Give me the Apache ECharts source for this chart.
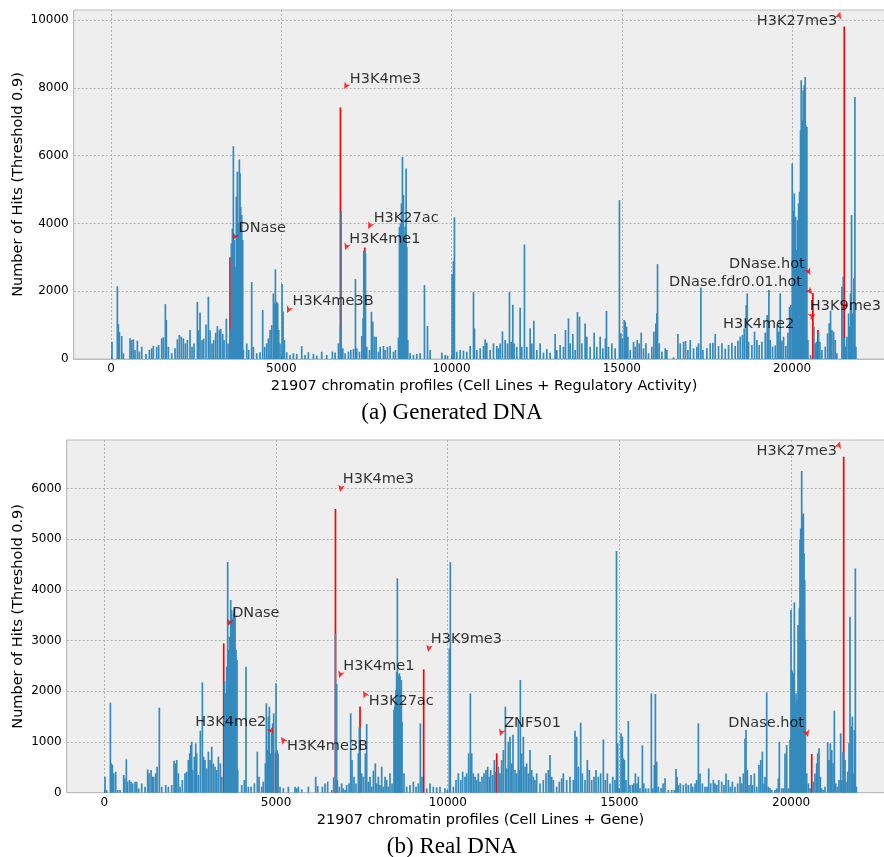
<!DOCTYPE html>
<html>
<head>
<meta charset="utf-8">
<script src="https://cdn.jsdelivr.net/npm/echarts@6/dist/echarts.min.js"></script>
<style>
    html, body { margin: 0; padding: 0; background: #fff; }
    #chart { width: 884px; height: 857px; }
</style>
</head>
<body>
<div id="chart"></div>
<script>
// profile index / hit count (only visible bars)
var genBlue = [[29,510],[186,2150],[215,1030],[245,800],[313,680],[362,170],[558,610],[607,560],[656,580],[705,265],[773,540],[832,220],[901,360],[1028,150],[1126,270],[1194,315],[1243,390],[1341,360],[1400,410],[1488,610],[1537,640],[1596,1620],[1625,1150],[1684,360],[1782,170],[1880,315],[1948,580],[2007,710],[2066,660],[2125,610],[2183,460],[2242,560],[2320,855],[2379,360],[2438,460],[2536,1680],[2575,850],[2614,1370],[2673,560],[2722,600],[2790,1020],[2859,1840],[2908,850],[2966,460],[3015,560],[3074,780],[3123,970],[3182,855],[3221,895],[3280,740],[3319,560],[3387,1190],[3436,460],
    [3495,855],[3534,3410],[3564,3850],[3593,6280],[3622,3510],[3652,2720],[3681,4790],[3710,5525],[3740,4000],[3769,5890],[3789,5475],[3808,4490],[3838,4250],[3867,3510],[3887,265],
    [3985,460],[4043,265],[4131,2270],[4180,360],[4278,170],[4376,200],[4454,1445],[4513,360],[4572,460],[4621,610],[4670,855],[4719,1000],[4768,1936],[4807,1640],[4827,2645],[4866,1690],[4895,1640],[4924,855],[4963,460],[5022,2210],[5052,1400],[5091,560],[5159,200],[5257,120],[5355,170],[5453,150],[5600,380],[5698,120],[5796,200],[5943,150],[6041,100],[6187,216],[6334,120],[6500,220],
    [6581,190],[6679,460],[6737,950],[6757,4365],[6806,315],[6875,170],[6972,216],[7041,265],[7119,295],[7178,2360],[7217,315],[7296,216],[7364,680],[7403,1200],[7423,3195],[7452,3200],[7472,3115],[7511,360],[7589,265],[7648,1395],[7687,1100],[7736,660],[7785,660],[7854,216],[7903,360],[8000,384],[8049,265],[8118,360],[8196,384],[8294,216],[8353,265],[8441,630],[8470,3900],[8500,4000],[8529,4590],[8558,5966],[8588,4840],[8607,3410],[8637,3900],[8666,5620],[8686,3310],[8715,560],[8784,170],[8882,120],[8980,150],[9077,170],[9205,2180],[9293,970],[9371,265],[9714,190],[9812,120],[9880,100],
    [10017,2500],[10056,2890],[10085,4180],[10154,216],[10252,265],[10350,246],[10448,216],[10546,384],[10644,1975],[10673,905],[10742,265],[10840,315],[10937,384],[10987,580],[11035,480],[11133,265],[11231,460],[11329,384],[11378,315],[11427,460],[11495,815],[11574,560],[11642,460],[11701,1975],[11750,510],[11799,1600],[11838,460],[11916,360],[12014,1515],[12063,360],[12141,3380],[12210,360],[12308,905],[12357,460],[12416,1130],[12504,265],[12602,460],[12700,186],[12798,290],[12895,186],[13042,735],[13091,265],[13189,413],[13287,360],[13346,855],[13434,1200],[13483,460],[13561,737],[13630,265],[13698,1385],[13757,1250],[13825,460],[13923,1050],[13972,660],[14070,360],[14188,777],[14266,360],[14364,660],[14442,315],[14520,610],[14550,1415],[14609,360],[14707,460],[14805,315],[14930,4690],
    [14972,757],[15021,610],[15070,1150],[15100,1100],[15139,954],[15178,660],[15247,265],[15344,510],[15393,364],[15452,560],[15511,462],[15570,777],[15638,315],[15707,462],[15785,167],[15883,364],[15942,806],[16000,1050],[16030,1347],[16049,2800],[16098,462],[16177,216],[16275,315],[16323,265],[16519,50],[16647,737],[16715,462],[16813,510],[16872,530],[16940,265],[17009,560],[17107,315],[17205,364],[17254,462],[17322,2113],[17381,265],[17498,315],[17596,462],[17675,482],[17743,737],[17841,383],[17939,462],[18037,305],[18135,413],[18233,482],[18330,383],[18409,540],[18477,660],[18546,708],[18595,904],[18654,1592],[18683,1937],[18722,511],[18820,413],[18898,806],[18967,560],[19035,413],[19114,511],[19212,777],[19270,1297],[19319,2035],[19359,560],[19427,364],[19505,403],[19564,1003],[19613,806],[19652,1937],[19701,540],[19750,658],[19818,383],[19877,777],[19926,1543],[19965,1592],
    [20005,5770],[20024,4200],[20044,4375],[20064,4885],[20083,4100],[20103,4200],[20132,3215],[20161,4100],[20191,4590],[20220,4935],[20249,6750],[20269,8228],[20298,7046],[20327,7930],[20357,8080],[20386,8326],[20406,6900],[20435,6850],[20465,560],[20543,118],[20641,954],[20680,462],[20719,510],[20778,757],[20817,510],[20876,265],[20974,364],[21042,757],[21091,1050],[21130,1425],[21169,855],[21219,806],[21268,560],[21316,167],[21463,2133],[21502,2428],[21533,620],[21561,364],[21610,660],[21659,1347],[21688,954],[21718,1937],[21747,4246],[21777,1347],[21816,2380],[21845,7736],[21874,364]];
var genRed = [[3495,3000],[6737,7425],[7452,3290],[20611,1950],[20760,855],[21533,9810]];

var realBlue = [[20,316],[69,50],[176,1776],[205,579],[234,546],[273,382],[331,414],[389,53],[457,53],[564,349],[593,283],[641,658],[671,217],[729,250],[777,217],[826,184],[894,217],[942,217],[1001,86],[1088,184],[1185,118],[1263,460],[1302,382],[1360,447],[1399,316],[1437,316],[1496,382],[1535,513],[1602,1677],[1670,118],[1787,151],[1865,118],[1962,151],[2030,631],[2069,579],[2107,645],[2156,382],[2204,118],[2272,250],[2350,382],[2398,414],[2447,645],[2486,776],[2515,940],[2544,1006],[2573,447],[2622,710],[2661,973],[2690,776],[2738,349],[2796,1224],[2855,2177],[2893,710],[2932,645],[2981,480],[3029,809],[3078,645],[3127,908],[3175,579],[3224,513],[3272,447],[3321,710],[3379,579],[3418,316],
    [3500,2200],[3525,1960],[3563,2486],[3592,4552],[3621,2815],[3651,3078],[3680,3802],[3709,3605],[3738,3440],[3767,3539],[3787,3638],[3806,3473],[3835,2815],[3864,2618],[3884,450],
    [4000,151],[4078,250],[4126,2486],[4194,118],[4272,118],[4369,184],[4456,809],[4505,316],[4583,118],[4631,217],[4689,579],[4718,1763],[4748,842],[4777,1500],[4806,1697],[4835,776],[4874,1171],[4903,1368],[4932,1566],[5000,2158],[5029,842],[5058,776],[5116,118],[5213,86],[5359,118],[5553,118],[5602,86],[5650,118],[5747,66],[5941,118],[6155,316],[6213,130],[6349,118],[6427,184],[6504,217],[6621,53],[6679,302],
    [6731,3140],[6765,2145],[6786,250],[6844,118],[6912,184],[6960,86],[7009,53],[7057,151],[7125,184],[7174,1566],[7213,645],[7271,316],[7329,184],[7397,776],[7426,1290],[7446,1290],[7494,382],[7543,316],[7601,776],[7640,1355],[7688,217],[7737,316],[7785,118],[7834,434],[7892,579],[7931,184],[7980,316],[8028,151],[8077,513],[8125,118],[8174,316],[8222,250],[8271,118],[8319,382],[8378,184],[8436,1631],[8455,1697],[8475,1829],[8494,2026],[8513,2388],[8533,4230],[8552,2322],[8572,2026],[8591,2355],[8610,2300],[8630,2050],[8649,2223],[8669,1400],[8727,382],[8805,118],[8902,151],[8999,217],[9076,118],[9144,184],[9203,1368],[9251,316],[9387,86],[9484,184],[9581,118],[9678,105],[9775,118],[9921,86],[9989,53],
    [10047,2850],[10076,4550],[10164,118],[10241,250],[10309,382],[10377,250],[10435,414],[10503,316],[10552,382],[10610,776],[10659,1960],[10698,776],[10746,382],[10795,316],[10843,250],[10892,382],[10940,217],[10998,316],[11057,382],[11115,447],[11163,513],[11212,316],[11251,447],[11309,349],[11358,645],[11387,414],[11474,513],[11522,382],[11571,645],[11620,842],[11678,1697],[11717,480],[11765,1006],[11814,1105],[11862,579],[11901,1145],[11959,447],[12008,382],[12056,1434],[12085,447],[12115,2223],[12154,776],[12202,1105],[12251,513],[12299,579],[12348,382],[12396,842],[12445,447],[12493,316],[12542,250],[12590,382],[12687,184],[12784,250],[12862,382],[12930,447],[12979,743],[13027,316],[13076,250],[13173,118],[13251,217],[13319,283],[13367,382],[13464,250],[13561,316],[13658,250],[13707,1224],[13755,1105],[13804,513],[13872,1381],[13920,382],[13998,250],[14066,645],[14124,447],[14192,250],[14260,316],[14318,447],[14386,316],[14454,382],[14532,1052],[14590,250],[14648,382],[14726,184],[14804,316],[14871,250],[14915,4770],[14950,973],
    [14988,86],[15047,1171],[15086,1105],[15115,677],[15144,645],[15192,250],[15260,1414],[15309,151],[15377,151],[15416,184],[15464,381],[15513,184],[15551,316],[15600,86],[15668,934],[15707,184],[15765,86],[15843,86],[15930,1960],[15969,86],[16017,546],[16047,1947],[16085,612],[16134,118],[16212,86],[16270,184],[16328,283],[16425,53],[16522,53],[16600,53],[16648,467],[16678,316],[16717,151],[16774,184],[16861,151],[16940,184],[17007,151],[17085,184],[17134,118],[17202,184],[17250,250],[17299,1368],[17347,381],[17415,184],[17493,118],[17551,118],[17600,480],[17658,184],[17736,250],[17784,184],[17833,151],[17891,250],[17978,217],[18046,151],[18104,381],[18172,250],[18231,118],[18289,217],[18366,118],[18444,184],[18512,316],[18561,184],[18609,381],[18658,1072],[18687,1237],[18726,447],[18774,151],[18833,349],[18871,151],[18930,381],[18998,118],[19065,546],[19114,645],[19163,809],[19211,184],[19240,316],[19289,1980],[19337,118],[19386,86],[19434,53],[19531,53],[19580,86],[19628,283],[19657,1006],[19725,86],[19774,86],[19823,776],[19871,940],[19920,86],[19968,1040],
    [19997,3605],[20017,2420],[20036,2388],[20065,2355],[20094,3756],[20114,1763],[20143,1960],[20172,1829],[20201,3309],[20220,2420],[20240,3640],[20259,4986],[20279,5216],[20308,6348],[20327,5480],[20357,5512],[20376,4723],[20396,4197],[20415,3013],[20454,381],[20503,184],[20551,86],[20648,217],[20696,381],[20745,579],[20774,776],[20813,875],[20852,316],[20890,86],[20939,53],[20987,118],[21065,993],[21104,645],[21143,974],[21182,842],[21221,579],[21259,1618],[21298,184],[21347,118],[21395,250],[21444,1171],[21473,250],[21512,809],[21531,800],[21570,645],[21599,217],[21648,414],[21686,974],[21715,3473],[21754,1302],[21784,1500],[21813,381],[21842,1237],[21871,4427],[21900,118]];
var realRed = [[3476,2947],[4985,790],[5040,760],[6731,5600],[7446,1700],[9300,2434],[11426,776],[20600,763],[21531,6630]];

// annotation label, arrow tip (profile index, hits)
var genNotes = [['H3K4me3',6845,7965],['DNase',3584,3510],['H3K27ac',7550,3835],['H3K4me1',6874,3215],['H3K4me3B',5170,1357],['H3K27me3',21416,10250],['DNase.hot',20535,2478],['DNase.fdr0.01.hot',20593,1918],['H3K9me3',21651,1563],['H3K4me2',20682,1327]];
var realNotes = [['H3K27me3',21424,6930],['H3K4me3',6864,5935],['DNase',3602,3290],['H3K9me3',9426,2777],['H3K4me1',6835,2264],['H3K27ac',7534,2007],['H3K4me2',4913,1158],['H3K4me3B',5146,1099],['ZNF501',11523,1119],['DNase.hot',20493,1099]];

var xTicks = [0, 5000, 10000, 15000, 20000];
var genYTicks = [0, 2000, 4000, 6000, 8000, 10000];
var realYTicks = [0, 1000, 2000, 3000, 4000, 5000, 6000];

// text placement of the annotations (px from arrow tip)
var genNotePos = [[4,-7,'left'],[4,-9,'left'],[4,-8,'left'],[3,-8,'left'],[4,-9,'left'],[-2,6,'right'],[-4,-8,'right'],[-8,-9,'right'],[-35,0,'left'],[-18,9,'right']];
var realNotePos = [[-2,6,'right'],[2,-9,'left'],[3,-9,'left'],[2,-9,'left'],[3,-8,'left'],[4,7,'left'],[-5,-9,'right'],[4,6,'left'],[3,-9,'left'],[-3,-10,'right']];

window.onload = function(){

    var myChart = echarts.init(document.getElementById('chart'));
    var txt = '#000';
    var plain = function(v){ return String(v); };   // no thousands separator

    function xAxis(gi, name){
        return {
            type: 'value', gridIndex: gi, min: -1096, max: 23002,
            name: name, nameLocation: 'middle', nameGap: 20, nameMoveOverlap: false,
            nameTextStyle: { fontFamily: 'DejaVu Sans', fontSize: 14.5, color: txt },
            axisLine: { show: true, onZero: false, lineStyle: { color: '#bcbcbc' } },
            axisTick: { show: true, inside: true, length: 3, customValues: xTicks, lineStyle: { color: '#444' } },
            axisLabel: { customValues: xTicks, formatter: plain, margin: 4, fontFamily: 'DejaVu Sans', fontSize: 12, color: txt },
            splitLine: { show: true, lineStyle: { color: '#b2b2b2', type: [2, 2], width: 1 } }
        };
    }

    function yAxis(gi, max, ticks, gap){
        return {
            type: 'value', gridIndex: gi, min: 0, max: max,
            name: 'Number of Hits (Threshold 0.9)', nameLocation: 'middle', nameGap: gap, nameMoveOverlap: false,
            nameTextStyle: { fontFamily: 'DejaVu Sans', fontSize: 14.5, color: txt },
            axisLine: { show: true, onZero: false, lineStyle: { color: '#bcbcbc' } },
            axisTick: { show: false, customValues: ticks },
            axisLabel: { customValues: ticks, formatter: plain, margin: 5, fontFamily: 'DejaVu Sans', fontSize: 12, color: txt },
            splitLine: { show: true, lineStyle: { color: '#b2b2b2', type: [2, 2], width: 1 } }
        };
    }

    function bars(data, gi, color){
        return {
            type: 'bar', xAxisIndex: gi, yAxisIndex: gi, data: data,
            barWidth: 1.7, barGap: '-100%', silent: true,
            itemStyle: { color: color }
        };
    }

    function notes(list, pos, gi){
        return {
            type: 'scatter', xAxisIndex: gi, yAxisIndex: gi, symbol: 'arrow', symbolSize: [5, 7],
            silent: true, z: 10, clip: false,
            itemStyle: { color: '#ff0000' },
            label: { show: true, position: 'inside', formatter: '{b}', fontFamily: 'DejaVu Sans',
                     fontSize: 14.5, color: txt, textBorderWidth: 0, verticalAlign: 'middle' },
            data: list.map(function(n, i){
                var p = pos[i];
                var ang = Math.atan2(p[1], -p[0]) * 180 / Math.PI - 90;
                return { name: n[0], value: [n[1], n[2]], symbolRotate: ang,
                         label: { align: p[2], offset: [p[0], p[1]] } };
            })
        };
    }

    var option = {
        animation: false,
        grid: [
            { left: 73.7, top: 10, width: 820.6, height: 349, show: true, outerBoundsMode: 'none', containLabel: false,
              backgroundColor: '#eeeeee', borderColor: '#bcbcbc', borderWidth: 1 },
            { left: 66.7, top: 440, width: 827.5, height: 352.7, show: true, outerBoundsMode: 'none', containLabel: false,
              backgroundColor: '#eeeeee', borderColor: '#bcbcbc', borderWidth: 1 }
        ],
        xAxis: [
            xAxis(0, '21907 chromatin profiles (Cell Lines + Regulatory Activity)'),
            xAxis(1, '21907 chromatin profiles (Cell Lines + Gene)')
        ],
        yAxis: [
            yAxis(0, 10300, genYTicks, 48),
            yAxis(1, 6960, realYTicks, 41)
        ],
        series: [
            bars(genRed, 0, '#ff0000'),
            bars(genBlue, 0, '#348ABD'),
            bars(realRed, 1, '#ff0000'),
            bars(realBlue, 1, '#348ABD'),
            notes(genNotes, genNotePos, 0),
            notes(realNotes, realNotePos, 1)
        ],
        graphic: [
            { type: 'text', style: { text: '(a) Generated DNA', x: 452, y: 413, align: 'center',
              verticalAlign: 'middle', font: '23px "Liberation Serif"', fill: '#000' } },
            { type: 'text', style: { text: '(b) Real DNA', x: 452, y: 847, align: 'center',
              verticalAlign: 'middle', font: '23px "Liberation Serif"', fill: '#000' } }
        ]
    };

    myChart.setOption(option);
};
</script>
</body>
</html>
